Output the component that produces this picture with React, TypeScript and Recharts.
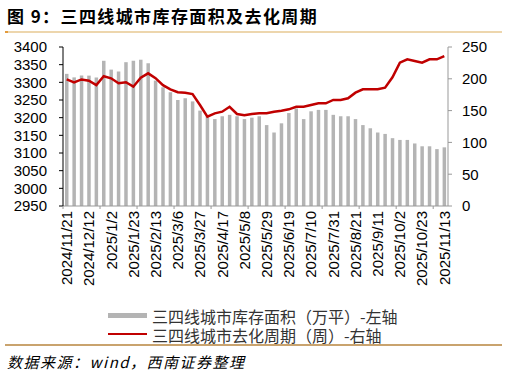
import React from "react"
import { ComposedChart, Bar, Line, XAxis, YAxis } from "recharts"

const dates = [
  "2024/11/21", "2024/11/28", "2024/12/5", "2024/12/12", "2024/12/19", "2024/12/26",
  "2025/1/2", "2025/1/9", "2025/1/16", "2025/1/23", "2025/1/30",
  "2025/2/6", "2025/2/13", "2025/2/20", "2025/2/27",
  "2025/3/6", "2025/3/13", "2025/3/20", "2025/3/27",
  "2025/4/3", "2025/4/10", "2025/4/17", "2025/4/24",
  "2025/5/1", "2025/5/8", "2025/5/15", "2025/5/22", "2025/5/29",
  "2025/6/5", "2025/6/12", "2025/6/19", "2025/6/26",
  "2025/7/3", "2025/7/10", "2025/7/17", "2025/7/24", "2025/7/31",
  "2025/8/7", "2025/8/14", "2025/8/21", "2025/8/28",
  "2025/9/4", "2025/9/11", "2025/9/18", "2025/9/25",
  "2025/10/2", "2025/10/9", "2025/10/16", "2025/10/23", "2025/10/30",
  "2025/11/6", "2025/11/13",
]

// 三四线城市库存面积（万平）- left axis
const inventory = [
  3324, 3314, 3319, 3319, 3314, 3361, 3336, 3331, 3357, 3361,
  3364, 3354, 3305, 3286, 3272, 3250, 3255, 3246, 3220, 3204,
  3196, 3204, 3208, 3204, 3196, 3200, 3204, 3179, 3158, 3184,
  3213, 3226, 3196, 3218, 3222, 3222, 3208, 3204, 3204, 3196,
  3179, 3170, 3158, 3154, 3142, 3137, 3137, 3127, 3119, 3119,
  3111, 3116,
]

// 三四线城市去化周期（周）- right axis
const cycle = [
  199, 194.5, 199, 197, 190, 204, 200.8, 193, 194.5, 187.6,
  201.8, 208.6, 201, 190, 183.5, 178.8, 178, 176, 158.8, 140.4,
  145.7, 148.3, 156, 144.7, 142.6, 144.7, 145.7, 145.7, 148.3, 149.9,
  152, 156, 156, 158.8, 161.5, 161.5, 166.7, 166.7, 169.3, 178.2,
  183.5, 183.5, 183.5, 186, 202.3, 225.3, 230.6, 228, 225.3, 230.6,
  230.6, 235.8,
]

const leftTicks = [2950, 3000, 3050, 3100, 3150, 3200, 3250, 3300, 3350, 3400]
const rightTicks = [0, 50, 100, 150, 200, 250]

const data = dates.map((d, i) => ({ date: d, inventory: inventory[i], cycle: cycle[i] }))

const W = 507
const LEFT_W = 63
const RIGHT_W = 59
const BAND = (W - LEFT_W - RIGHT_W) / dates.length

const cjk = "'Noto Sans CJK SC', 'Noto Sans', sans-serif"

function DateTick(props: any) {
  const { x, y, payload } = props
  const i = payload.index
  const ty = y + 5
  return (
    <g>
      {i % 5 === 0 ? (
        <line x1={x - BAND / 2} x2={x - BAND / 2} y1={y} y2={y + 3} stroke="#999" />
      ) : null}
      {i % 3 === 0 ? (
        <text
          x={x}
          y={ty}
          transform={`rotate(-90, ${x}, ${ty})`}
          textAnchor="end"
          dy="0.36em"
          fontSize={15}
          fill="#000"
        >
          {payload.value}
        </text>
      ) : null}
    </g>
  )
}

export default function App() {
  return (
    <div style={{ position: "relative", width: W, height: 376, background: "#fff", overflow: "hidden" }}>
      <style>{`body{margin:0}`}</style>
      <div
        style={{
          position: "absolute",
          left: 7,
          top: 5,
          fontFamily: cjk,
          fontWeight: 700,
          fontSize: 17,
          lineHeight: "22px",
          letterSpacing: 1.4,
          color: "#000",
          whiteSpace: "nowrap",
        }}
      >
        图 9：三四线城市库存面积及去化周期
      </div>
      <div style={{ position: "absolute", left: 5, top: 31, width: 497, height: 2, background: "#edd6ad" }} />
      <div style={{ position: "absolute", left: 5, top: 31, width: 3, height: 2, background: "#e39a3b" }} />

      <div style={{ position: "absolute", left: 0, top: 0 }}>
        <ComposedChart
          width={W}
          height={300}
          data={data}
          margin={{ top: 47, right: 0, bottom: 0, left: 0 }}
          style={{ fontFamily: "'Liberation Sans', Arial, sans-serif" }}
        >
          <XAxis
            dataKey="date"
            interval={0}
            height={94}
            tickSize={0}
            tickMargin={0}
            tickLine={false}
            axisLine={{ stroke: "#999" }}
            tick={<DateTick />}
          />
          <YAxis
            yAxisId="left"
            orientation="left"
            domain={[2950, 3400]}
            ticks={leftTicks}
            interval={0}
            width={LEFT_W}
            tickSize={4}
            tickMargin={12}
            axisLine={{ stroke: "#000" }}
            tickLine={{ stroke: "#000" }}
            tick={{ fontSize: 15, fill: "#000" }}
          />
          <YAxis
            yAxisId="right"
            orientation="right"
            domain={[0, 250]}
            ticks={rightTicks}
            interval={0}
            width={RIGHT_W}
            tickSize={4}
            tickMargin={10}
            axisLine={{ stroke: "#999" }}
            tickLine={{ stroke: "#999" }}
            tick={{ fontSize: 15, fill: "#000" }}
          />
          <Bar yAxisId="left" dataKey="inventory" fill="#b4b4b4" barSize={3.5} isAnimationActive={false} />
          <Line
            yAxisId="right"
            type="linear"
            dataKey="cycle"
            stroke="#c00000"
            strokeWidth={2.5}
            dot={false}
            isAnimationActive={false}
          />
        </ComposedChart>
      </div>

      <div style={{ position: "absolute", left: 108, top: 312.5, width: 39, height: 5.5, background: "#b4b4b4" }} />
      <div
        style={{
          position: "absolute",
          left: 152,
          top: 307,
          fontFamily: cjk,
          fontSize: 16,
          lineHeight: "18px",
          color: "#333",
          whiteSpace: "nowrap",
        }}
      >
        三四线城市库存面积（万平）-左轴
      </div>
      <div style={{ position: "absolute", left: 108, top: 333, width: 39, height: 2.2, background: "#c00000" }} />
      <div
        style={{
          position: "absolute",
          left: 152,
          top: 326,
          fontFamily: cjk,
          fontSize: 16,
          lineHeight: "18px",
          color: "#333",
          whiteSpace: "nowrap",
        }}
      >
        三四线城市去化周期（周）-右轴
      </div>

      <div style={{ position: "absolute", left: 5, top: 344, width: 497, height: 1.5, background: "#c9a36e" }} />
      <div
        style={{
          position: "absolute",
          left: 7,
          top: 352,
          fontFamily: cjk,
          fontStyle: "italic",
          fontSize: 15,
          lineHeight: "20px",
          letterSpacing: 1.5,
          color: "#000",
          whiteSpace: "nowrap",
        }}
      >
        数据来源：wind，西南证券整理
      </div>
    </div>
  )
}
